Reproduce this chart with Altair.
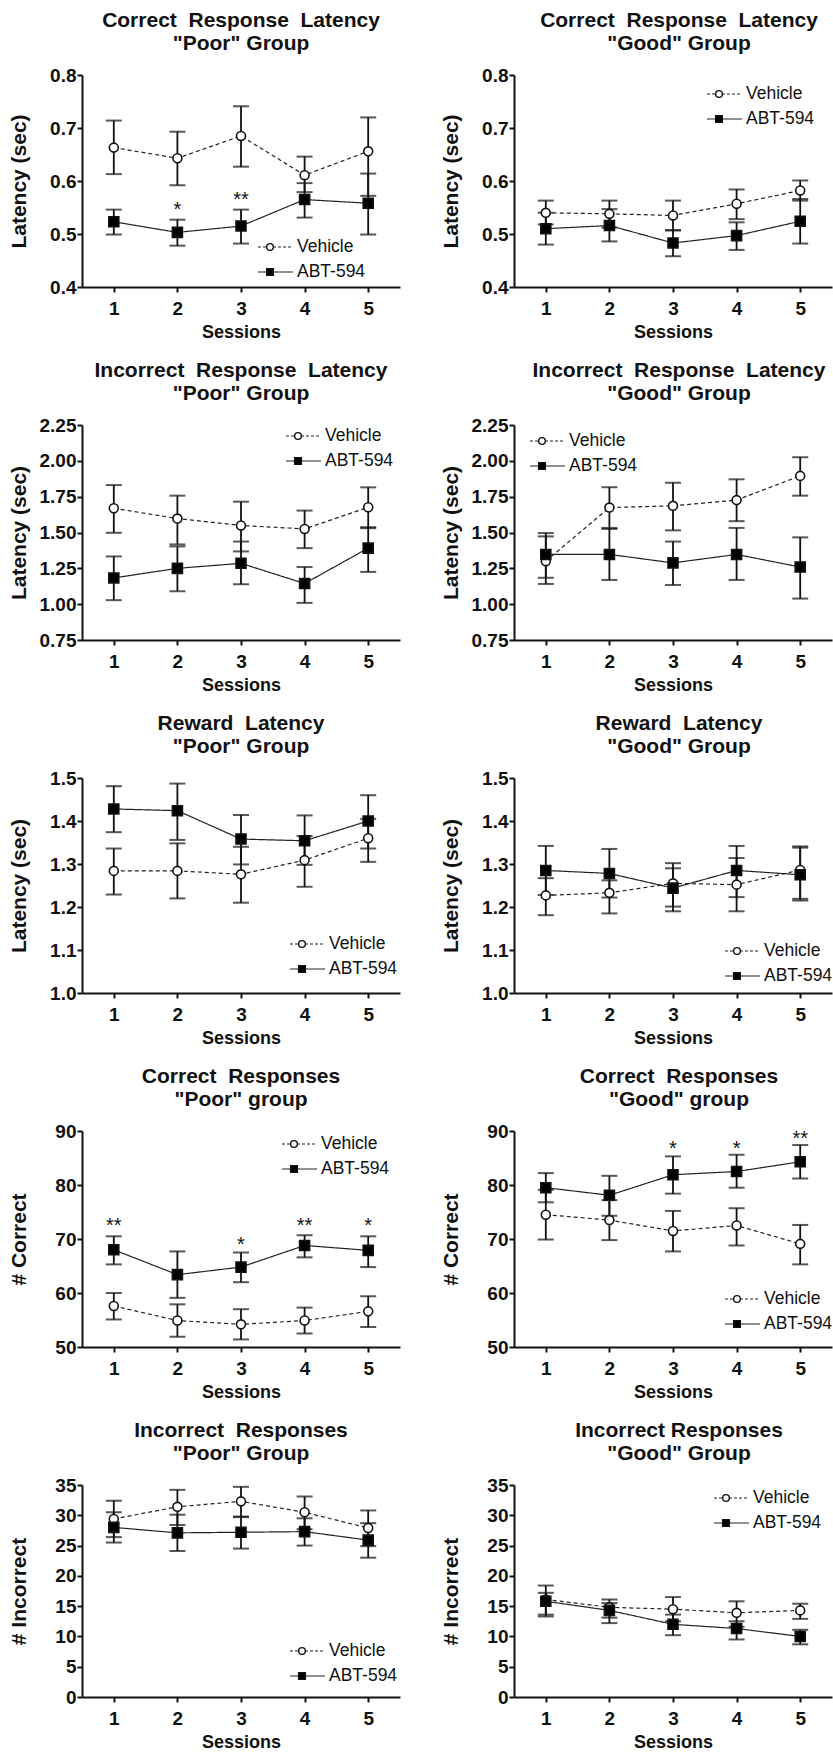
import altair as alt
import pandas as pd

FONT = "Liberation Sans"
SESSIONS = [1, 2, 3, 4, 5]
GROUPS = ["Vehicle", "ABT-594"]

# ---------------- Correct Response Latency, "Poor" ----------------
CRL_POOR_VEH = [0.663, 0.643, 0.685, 0.611, 0.656]
CRL_POOR_VEH_LO = [0.613, 0.592, 0.627, 0.579, 0.572]
CRL_POOR_VEH_HI = [0.714, 0.693, 0.741, 0.646, 0.720]
CRL_POOR_ABT = [0.523, 0.503, 0.515, 0.565, 0.558]
CRL_POOR_ABT_LO = [0.499, 0.478, 0.482, 0.531, 0.499]
CRL_POOR_ABT_HI = [0.546, 0.527, 0.546, 0.596, 0.614]
CRL_POOR_STARS = [(2, 0.552, "*"), (3, 0.572, "**")]

# ---------------- Correct Response Latency, "Good" ----------------
CRL_GOOD_VEH = [0.540, 0.538, 0.535, 0.557, 0.582]
CRL_GOOD_VEH_LO = [0.518, 0.512, 0.507, 0.528, 0.563]
CRL_GOOD_VEH_HI = [0.563, 0.563, 0.563, 0.584, 0.601]
CRL_GOOD_ABT = [0.510, 0.516, 0.483, 0.497, 0.524]
CRL_GOOD_ABT_LO = [0.480, 0.486, 0.458, 0.470, 0.482]
CRL_GOOD_ABT_HI = [0.540, 0.547, 0.507, 0.522, 0.566]

# ---------------- Incorrect Response Latency, "Poor" ----------------
IRL_POOR_VEH = [1.669, 1.597, 1.549, 1.525, 1.676]
IRL_POOR_VEH_LO = [1.498, 1.417, 1.368, 1.391, 1.530]
IRL_POOR_VEH_HI = [1.831, 1.757, 1.715, 1.653, 1.815]
IRL_POOR_ABT = [1.183, 1.250, 1.285, 1.144, 1.391]
IRL_POOR_ABT_LO = [1.028, 1.090, 1.139, 1.009, 1.225]
IRL_POOR_ABT_HI = [1.333, 1.403, 1.437, 1.259, 1.537]

# ---------------- Incorrect Response Latency, "Good" ----------------
IRL_GOOD_VEH = [1.300, 1.674, 1.686, 1.726, 1.895]
IRL_GOOD_VEH_LO = [1.141, 1.525, 1.515, 1.579, 1.757]
IRL_GOOD_VEH_HI = [1.473, 1.816, 1.847, 1.871, 2.025]
IRL_GOOD_ABT = [1.347, 1.347, 1.288, 1.347, 1.259]
IRL_GOOD_ABT_LO = [1.184, 1.169, 1.134, 1.169, 1.039]
IRL_GOOD_ABT_HI = [1.496, 1.532, 1.437, 1.532, 1.466]

# ---------------- Reward Latency, "Poor" ----------------
RL_POOR_VEH = [1.284, 1.284, 1.276, 1.309, 1.360]
RL_POOR_VEH_LO = [1.229, 1.220, 1.210, 1.247, 1.305]
RL_POOR_VEH_HI = [1.336, 1.348, 1.340, 1.365, 1.405]
RL_POOR_ABT = [1.428, 1.424, 1.358, 1.354, 1.400]
RL_POOR_ABT_LO = [1.374, 1.356, 1.299, 1.298, 1.336]
RL_POOR_ABT_HI = [1.481, 1.487, 1.414, 1.413, 1.460]

# ---------------- Reward Latency, "Good" ----------------
RL_GOOD_VEH = [1.227, 1.233, 1.255, 1.252, 1.286]
RL_GOOD_VEH_LO = [1.181, 1.185, 1.190, 1.190, 1.219]
RL_GOOD_VEH_HI = [1.267, 1.262, 1.302, 1.314, 1.341]
RL_GOOD_ABT = [1.285, 1.278, 1.244, 1.285, 1.275]
RL_GOOD_ABT_LO = [1.228, 1.222, 1.201, 1.223, 1.215]
RL_GOOD_ABT_HI = [1.342, 1.335, 1.290, 1.342, 1.338]

# ---------------- Correct Responses, "Poor" ----------------
CR_POOR_VEH = [57.6, 54.9, 54.2, 54.9, 56.6]
CR_POOR_VEH_LO = [55.1, 51.9, 51.4, 52.5, 53.7]
CR_POOR_VEH_HI = [60.0, 57.9, 57.0, 57.3, 59.4]
CR_POOR_ABT = [68.0, 63.4, 64.8, 68.8, 67.9]
CR_POOR_ABT_LO = [65.3, 59.1, 62.0, 66.6, 64.8]
CR_POOR_ABT_HI = [70.5, 67.7, 67.5, 70.7, 70.5]
CR_POOR_STARS = [(1, 73.1, "**"), (3, 69.6, "*"), (4, 73.1, "**"), (5, 73.2, "*")]

# ---------------- Correct Responses, "Good" ----------------
CR_GOOD_VEH = [74.5, 73.5, 71.5, 72.5, 69.1]
CR_GOOD_VEH_LO = [69.9, 69.8, 67.7, 68.8, 65.3]
CR_GOOD_VEH_HI = [79.1, 77.2, 75.2, 75.7, 72.6]
CR_GOOD_ABT = [79.5, 78.1, 81.9, 82.5, 84.3]
CR_GOOD_ABT_LO = [76.8, 74.3, 78.4, 79.5, 81.2]
CR_GOOD_ABT_HI = [82.2, 81.7, 85.3, 85.6, 87.4]
CR_GOOD_STARS = [(3, 87.5, "*"), (4, 87.5, "*"), (5, 89.2, "**")]

# ---------------- Incorrect Responses, "Poor" ----------------
IR_POOR_VEH = [29.4, 31.4, 32.3, 30.5, 27.9]
IR_POOR_VEH_LO = [26.4, 28.4, 29.8, 27.7, 24.9]
IR_POOR_VEH_HI = [32.4, 34.2, 34.7, 33.1, 30.8]
IR_POOR_ABT = [28.0, 27.1, 27.2, 27.3, 25.9]
IR_POOR_ABT_LO = [25.5, 24.1, 24.5, 25.0, 23.0]
IR_POOR_ABT_HI = [30.5, 30.1, 29.7, 29.5, 28.7]

# ---------------- Incorrect Responses, "Good" ----------------
IR_GOOD_VEH = [16.1, 14.8, 14.5, 13.9, 14.3]
IR_GOOD_VEH_LO = [13.6, 13.1, 12.5, 11.6, 12.9]
IR_GOOD_VEH_HI = [18.4, 16.1, 16.5, 15.8, 15.4]
IR_GOOD_ABT = [15.8, 14.3, 12.0, 11.3, 10.0]
IR_GOOD_ABT_LO = [13.3, 12.2, 10.2, 9.5, 8.7]
IR_GOOD_ABT_HI = [17.2, 15.5, 13.6, 12.5, 11.1]

# layout (pixels)
PANEL_W = 318
ROW_H = [212, 215, 215, 216, 212]
ROW_GAP = 138
SP = "\u00a0 "  # wide word gap as in the original titles


def panel(title, ytitle, ydom, yticks, yfmt, veh, veh_lo, veh_hi,
          abt, abt_lo, abt_hi, stars, leg, height, tdx=0):
    rows = []
    for g, m, lo, hi in [("Vehicle", veh, veh_lo, veh_hi),
                         ("ABT-594", abt, abt_lo, abt_hi)]:
        for s, a, b, c in zip(SESSIONS, m, lo, hi):
            rows.append(dict(session=s, group=g, mean=a, lo=b, hi=c))
    df = pd.DataFrame(rows)

    xenc = alt.X("session:Q",
                 scale=alt.Scale(domain=[0.5, 5.5], nice=False, zero=False),
                 axis=alt.Axis(values=SESSIONS, format="d", title="Sessions",
                               titleFontSize=18, labelPadding=7, titlePadding=5))
    yscale = alt.Scale(domain=ydom, nice=False, zero=False)
    yaxis = alt.Axis(values=yticks, format=yfmt, title=ytitle,
                     labelPadding=1, titleX=-63, titleY=height / 2,
                     titleAngle=270, titleAlign="center",
                     titleBaseline="middle", titleFontSize=21)

    def yenc(f):
        return alt.Y(f, scale=yscale, axis=yaxis)

    base = alt.Chart(df)
    err = base.mark_rule(color="#111", strokeWidth=1.8).encode(
        x=xenc, y=yenc("lo:Q"), y2="hi:Q")
    caps = base.transform_fold(["lo", "hi"], as_=["which", "val"]).mark_tick(
        orient="horizontal", size=16, thickness=2, color="#111").encode(
        x=xenc, y=yenc("val:Q"))
    lines = base.mark_line(color="#222", strokeWidth=1.2).encode(
        x=xenc, y=yenc("mean:Q"),
        strokeDash=alt.StrokeDash("group:N", scale=alt.Scale(
            domain=GROUPS, range=[[4, 3], [1, 0]]), legend=None))
    pts = base.mark_point(filled=True, stroke="#111", strokeWidth=1.6,
                          opacity=1, fillOpacity=1).encode(
        x=xenc, y=yenc("mean:Q"),
        shape=alt.Shape("group:N", scale=alt.Scale(
            domain=GROUPS, range=["circle", "square"]), legend=None),
        fill=alt.Fill("group:N", scale=alt.Scale(
            domain=GROUPS, range=["white", "black"]), legend=None),
        size=alt.Size("group:N", scale=alt.Scale(
            domain=GROUPS, range=[80, 100]), legend=None))
    layers = [err, caps, lines, pts]

    if stars:
        sdf = pd.DataFrame(stars, columns=["session", "pos", "label"])
        layers.append(alt.Chart(sdf).mark_text(
            fontSize=20, font=FONT, baseline="alphabetic", dy=10,
            color="#111").encode(x=xenc, y=yenc("pos:Q"), text="label:N"))

    one = pd.DataFrame({"k": [0]})
    lx, ly = leg
    for i, (g, dash, shp, fill) in enumerate([
            ("Vehicle", [3, 2], "circle", "white"),
            ("ABT-594", [1, 0], "square", "black")]):
        ry = ly + 25 * i
        layers.append(alt.Chart(one).mark_rule(
            color="#222", strokeWidth=1.2, strokeDash=dash).encode(
            x=alt.value(lx), x2=alt.value(lx + 35), y=alt.value(ry)))
        layers.append(alt.Chart(one).mark_point(
            shape=shp, filled=True, fill=fill, stroke="#111",
            strokeWidth=1.4, size=45, opacity=1).encode(
            x=alt.value(lx + 12), y=alt.value(ry)))
        layers.append(alt.Chart(one).mark_text(
            align="left", baseline="middle", fontSize=17.5, font=FONT,
            color="#111").encode(
            x=alt.value(lx + 39), y=alt.value(ry), text=alt.value(g)))

    return alt.layer(*layers).properties(
        width=PANEL_W, height=height,
        title=alt.TitleParams(text=title, fontSize=21, font=FONT,
                              fontWeight="bold", anchor="middle", dx=tdx,
                              lineHeight=23, offset=12, color="#111"))


LAT1 = [0.4, 0.5, 0.6, 0.7, 0.8]
LAT2 = [0.75, 1.0, 1.25, 1.5, 1.75, 2.0, 2.25]
LAT3 = [1.0, 1.1, 1.2, 1.3, 1.4, 1.5]
CORR = [50, 60, 70, 80, 90]
INC = [0, 5, 10, 15, 20, 25, 30, 35]

p1 = panel(["Correct" + SP + "Response" + SP + "Latency", '"Poor" Group'],
           "Latency (sec)", [0.4, 0.8], LAT1, ".1f",
           CRL_POOR_VEH, CRL_POOR_VEH_LO, CRL_POOR_VEH_HI,
           CRL_POOR_ABT, CRL_POOR_ABT_LO, CRL_POOR_ABT_HI,
           CRL_POOR_STARS, (176, 172), ROW_H[0])
p2 = panel(["Correct" + SP + "Response" + SP + "Latency", '"Good" Group'],
           "Latency (sec)", [0.4, 0.8], LAT1, ".1f",
           CRL_GOOD_VEH, CRL_GOOD_VEH_LO, CRL_GOOD_VEH_HI,
           CRL_GOOD_ABT, CRL_GOOD_ABT_LO, CRL_GOOD_ABT_HI,
           None, (193, 19), ROW_H[0], 6)
p3 = panel(["Incorrect" + SP + "Response" + SP + "Latency", '"Poor" Group'],
           "Latency (sec)", [0.75, 2.25], LAT2, ".2f",
           IRL_POOR_VEH, IRL_POOR_VEH_LO, IRL_POOR_VEH_HI,
           IRL_POOR_ABT, IRL_POOR_ABT_LO, IRL_POOR_ABT_HI,
           None, (204, 11), ROW_H[1])
p4 = panel(["Incorrect" + SP + "Response" + SP + "Latency", '"Good" Group'],
           "Latency (sec)", [0.75, 2.25], LAT2, ".2f",
           IRL_GOOD_VEH, IRL_GOOD_VEH_LO, IRL_GOOD_VEH_HI,
           IRL_GOOD_ABT, IRL_GOOD_ABT_LO, IRL_GOOD_ABT_HI,
           None, (16, 16), ROW_H[1], 6)
p5 = panel(["Reward" + SP + "Latency", '"Poor" Group'],
           "Latency (sec)", [1.0, 1.5], LAT3, ".1f",
           RL_POOR_VEH, RL_POOR_VEH_LO, RL_POOR_VEH_HI,
           RL_POOR_ABT, RL_POOR_ABT_LO, RL_POOR_ABT_HI,
           None, (208, 166), ROW_H[2])
p6 = panel(["Reward" + SP + "Latency", '"Good" Group'],
           "Latency (sec)", [1.0, 1.5], LAT3, ".1f",
           RL_GOOD_VEH, RL_GOOD_VEH_LO, RL_GOOD_VEH_HI,
           RL_GOOD_ABT, RL_GOOD_ABT_LO, RL_GOOD_ABT_HI,
           None, (211, 173), ROW_H[2], 6)
p7 = panel(["Correct" + SP + "Responses", '"Poor" group'],
           "# Correct", [50, 90], CORR, "d",
           CR_POOR_VEH, CR_POOR_VEH_LO, CR_POOR_VEH_HI,
           CR_POOR_ABT, CR_POOR_ABT_LO, CR_POOR_ABT_HI,
           CR_POOR_STARS, (200, 13), ROW_H[3])
p8 = panel(["Correct" + SP + "Responses", '"Good" group'],
           "# Correct", [50, 90], CORR, "d",
           CR_GOOD_VEH, CR_GOOD_VEH_LO, CR_GOOD_VEH_HI,
           CR_GOOD_ABT, CR_GOOD_ABT_LO, CR_GOOD_ABT_HI,
           CR_GOOD_STARS, (211, 168), ROW_H[3], 6)
p9 = panel(["Incorrect" + SP + "Responses", '"Poor" Group'],
           "# Incorrect", [0, 35], INC, "d",
           IR_POOR_VEH, IR_POOR_VEH_LO, IR_POOR_VEH_HI,
           IR_POOR_ABT, IR_POOR_ABT_LO, IR_POOR_ABT_HI,
           None, (208, 166), ROW_H[4])
p10 = panel(["Incorrect Responses", '"Good" Group'],
            "# Incorrect", [0, 35], INC, "d",
            IR_GOOD_VEH, IR_GOOD_VEH_LO, IR_GOOD_VEH_HI,
            IR_GOOD_ABT, IR_GOOD_ABT_LO, IR_GOOD_ABT_HI,
            None, (200, 13), ROW_H[4], 6)

chart = alt.concat(p1, p2, p3, p4, p5, p6, p7, p8, p9, p10, columns=2,
                   spacing=alt.RowColnumber(row=ROW_GAP, column=114),
                   bounds="flush").properties(
    padding={"left": 8, "top": 10, "right": 0, "bottom": 4},
    background="white",
).configure_view(stroke=None).configure_axis(
    grid=False, domainColor="#111", domainWidth=2, tickColor="#111",
    tickWidth=2, tickSize=5, labelFont=FONT, labelFontSize=19,
    labelFontWeight="bold", labelColor="#111", titleFont=FONT,
    titleFontWeight="bold", titleColor="#111")

chart.save("out.html", embed_options={"renderer": "svg", "actions": False})
